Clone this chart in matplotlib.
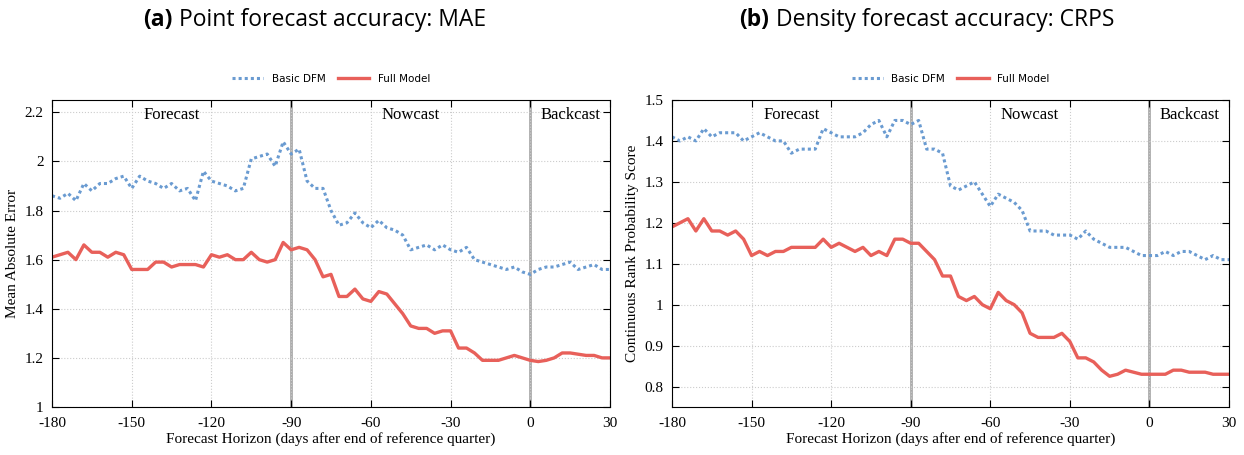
import numpy as np
import matplotlib.pyplot as plt
from matplotlib.ticker import MultipleLocator

# ---------------------------------------------------
# Data (every 3 days)
# ---------------------------------------------------

horizon = np.arange(-180, 31, 3)

mae_basic = [1.86, 1.85, 1.87, 1.84, 1.91, 1.88, 1.91, 1.91, 1.93, 1.94,
             1.89, 1.94, 1.92, 1.91, 1.89, 1.91, 1.88, 1.89, 1.84, 1.96,
             1.92, 1.91, 1.90, 1.88, 1.89, 2.01, 2.02, 2.03, 1.98, 2.08,
             2.03, 2.05, 1.92, 1.89, 1.89, 1.80, 1.74, 1.75, 1.79, 1.75,
             1.73, 1.76, 1.73, 1.72, 1.70, 1.64, 1.65, 1.66, 1.64, 1.66,
             1.64, 1.63, 1.65, 1.60, 1.59, 1.58, 1.57, 1.56, 1.57, 1.55,
             1.54, 1.56, 1.57, 1.57, 1.58, 1.59, 1.56, 1.57, 1.58, 1.56,
             1.56]
mae_full = [1.61, 1.62, 1.63, 1.60, 1.66, 1.63, 1.63, 1.61, 1.63, 1.62,
            1.56, 1.56, 1.56, 1.59, 1.59, 1.57, 1.58, 1.58, 1.58, 1.57,
            1.62, 1.61, 1.62, 1.60, 1.60, 1.63, 1.60, 1.59, 1.60, 1.67,
            1.64, 1.65, 1.64, 1.60, 1.53, 1.54, 1.45, 1.45, 1.48, 1.44,
            1.43, 1.47, 1.46, 1.42, 1.38, 1.33, 1.32, 1.32, 1.30, 1.31,
            1.31, 1.24, 1.24, 1.22, 1.19, 1.19, 1.19, 1.20, 1.21, 1.20,
            1.19, 1.185, 1.19, 1.20, 1.22, 1.22, 1.215, 1.21, 1.21, 1.20,
            1.20]
crps_basic = [1.41, 1.40, 1.41, 1.40, 1.43, 1.41, 1.42, 1.42, 1.42, 1.40,
              1.41, 1.42, 1.41, 1.40, 1.40, 1.37, 1.38, 1.38, 1.38, 1.43,
              1.42, 1.41, 1.41, 1.41, 1.42, 1.44, 1.45, 1.41, 1.45, 1.45,
              1.44, 1.45, 1.38, 1.38, 1.37, 1.29, 1.28, 1.29, 1.30, 1.27,
              1.24, 1.27, 1.26, 1.25, 1.23, 1.18, 1.18, 1.18, 1.17, 1.17,
              1.17, 1.16, 1.18, 1.16, 1.15, 1.14, 1.14, 1.14, 1.13, 1.12,
              1.12, 1.12, 1.13, 1.12, 1.13, 1.13, 1.12, 1.11, 1.12, 1.11,
              1.11]
crps_full = [1.19, 1.20, 1.21, 1.18, 1.21, 1.18, 1.18, 1.17, 1.18, 1.16,
             1.12, 1.13, 1.12, 1.13, 1.13, 1.14, 1.14, 1.14, 1.14, 1.16,
             1.14, 1.15, 1.14, 1.13, 1.14, 1.12, 1.13, 1.12, 1.16, 1.16,
             1.15, 1.15, 1.13, 1.11, 1.07, 1.07, 1.02, 1.01, 1.02, 1.00,
             0.99, 1.03, 1.01, 1.00, 0.98, 0.93, 0.92, 0.92, 0.92, 0.93,
             0.91, 0.87, 0.87, 0.86, 0.84, 0.825, 0.83, 0.84, 0.835, 0.83,
             0.83, 0.83, 0.83, 0.84, 0.84, 0.835, 0.835, 0.835, 0.83, 0.83,
             0.83]

phase_labels = ["Forecast", "Nowcast", "Backcast"]
phase_x = [-135, -45, 15]

BLUE = "#6a9bd1"
RED = "#e8605a"

plt.rcParams["font.family"] = "Liberation Serif"
plt.rcParams["axes.unicode_minus"] = False

fig = plt.figure(figsize=(12.44, 4.55), dpi=100)


def draw_panel(ax, basic, full, ylim, ystep, ylabel):
    ax.plot(horizon, basic, color=BLUE, linestyle=(0, (1, 1)), linewidth=2.2, label="Basic DFM")
    ax.plot(horizon, full, color=RED, linewidth=2.4, label="Full Model")
    ax.axvline(-90, color="#aaaaaa", linewidth=2, zorder=1)
    ax.axvline(0, color="#aaaaaa", linewidth=2, zorder=1)
    ax.set_xlim(-180, 30)
    ax.set_ylim(*ylim)
    ax.set_xticks([-180, -150, -120, -90, -60, -30, 0, 30])
    ax.yaxis.set_major_locator(MultipleLocator(ystep))
    ax.yaxis.set_major_formatter(plt.FuncFormatter(lambda v, p: f"{v:g}"))
    ax.grid(True, color="#cccccc", linestyle=":", linewidth=0.8)
    ax.tick_params(direction="in", top=True, right=True, labelsize=11, length=5)
    ax.tick_params(axis="x", pad=7)
    ax.tick_params(axis="y", pad=6)
    ax.set_xlabel("Forecast Horizon (days after end of reference quarter)", fontsize=11, labelpad=2)
    ax.set_ylabel(ylabel, fontsize=11, labelpad=4)
    top = ylim[1] - (ylim[1] - ylim[0]) * 0.05
    for lbl, x in zip(phase_labels, phase_x):
        ax.text(x, top, lbl, ha="center", va="center", fontsize=12)
    ax.legend(loc="lower center", bbox_to_anchor=(0.5, 1.04), ncol=2,
              frameon=False, handlelength=3.0, columnspacing=1.2, borderaxespad=0,
              prop={"family": "DejaVu Sans", "size": 7.5})


ax1 = fig.add_axes([52 / 1244, 48 / 455, 558 / 1244, 307 / 455])
draw_panel(ax1, mae_basic, mae_full, (1, 2.25), 0.2, "Mean Absolute Error")

ax2 = fig.add_axes([672 / 1244, 48 / 455, 557 / 1244, 307 / 455])
draw_panel(ax2, crps_basic, crps_full, (0.75, 1.5), 0.1, "Continuous Rank Probability Score")

# titles: bold label + regular text
for xb, lab, txt in [(172, "(a)", "Point forecast accuracy: MAE"),
                     (769, "(b)", "Density forecast accuracy: CRPS")]:
    fig.text(xb / 1244, 1 - 20 / 455, lab, ha="right", va="center",
             fontsize=16.5, fontweight="bold", family="Open Sans")
    fig.text((xb + 7) / 1244, 1 - 20 / 455, txt, ha="left", va="center",
             fontsize=16.5, family="Open Sans")

fig.savefig("out.png", dpi=100)
